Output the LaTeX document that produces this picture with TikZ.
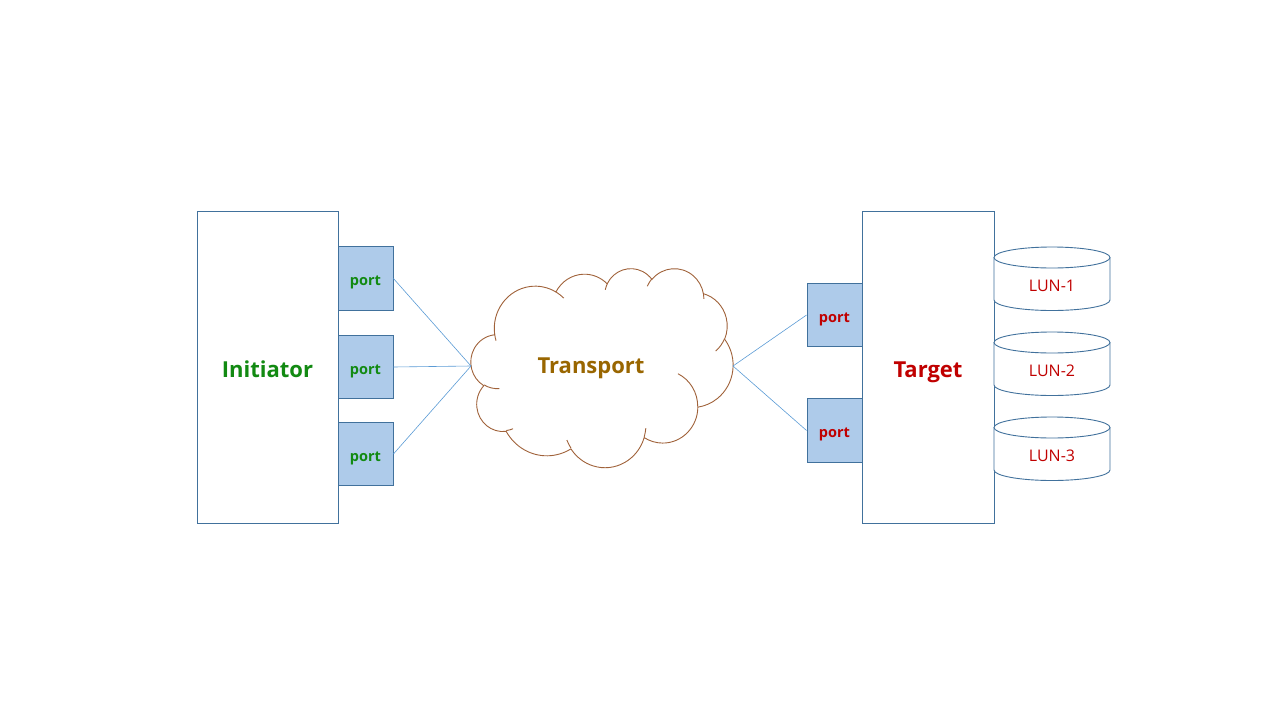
\documentclass[tikz,border=0pt]{standalone}
\usepackage{fontspec}
\setmainfont{Open Sans}
\definecolor{boxc}{HTML}{41719C}
\definecolor{portc}{HTML}{AECBEA}
\definecolor{linkc}{HTML}{5B9BD5}
\definecolor{initc}{HTML}{128A12}
\definecolor{tgtc}{HTML}{C00000}
\definecolor{transc}{HTML}{996600}
\definecolor{cloudc}{HTML}{A0623A}
\newcommand\cldsx{0.60648}
\newcommand\cldsy{0.46065}
\newcommand\cldarc[4]{%
 \pgfmathsetmacro\clA{atan2((#1)*sin(#3),(#2)*cos(#3))}%
 \pgfmathsetmacro\clB{atan2((#1)*sin((#3)+(#4)),(#2)*cos((#3)+(#4)))}%
 \pgfmathsetmacro\clD{mod(\clB-\clA+720,360)}%
 \pgfmathsetmacro\clS{(-1)*(\clA)}%
 \pgfmathsetmacro\clE{(-1)*(\clA)-\clD}%
 \pgfmathsetmacro\clRx{(#1)*\cldsx}%
 \pgfmathsetmacro\clRy{(#2)*\cldsy}%
 \pgfpatharc{\clS}{\clE}{\clRx pt and \clRy pt}}
\begin{document}
\begin{tikzpicture}[x=1pt,y=-1pt,
  bigtext/.style={font=\bfseries\fontsize{22}{26}\selectfont, text height=20pt, text depth=0pt},
  hostbox/.style={draw=boxc, line width=0.9pt, fill=white, inner sep=0pt, minimum height=312pt, bigtext},
  portbox/.style={draw=boxc, line width=0.9pt, fill=portc, inner sep=0pt, minimum width=55pt, minimum height=63.5pt, font=\bfseries\fontsize{14.5}{17}\selectfont, text height=14pt, text depth=0pt},
  link/.style={draw=linkc, line width=0.6pt},
  cyl/.style={draw=boxc, line width=0.9pt, fill=white},
  lunlabel/.style={text=tgtc, inner sep=0pt, font=\fontsize{16}{19}\selectfont, text height=12pt, text depth=0pt},
]
\useasboundingbox (0,0) rectangle (1280,720);
% initiator
\node[hostbox, minimum width=141pt, text=initc] (init) at (267.5,367) {Initiator};
\node[portbox, text=initc] (p1) at (365.5,278.5) {port};
\node[portbox, text=initc] (p2) at (365.5,367) {port};
\node[portbox, text=initc] (p3) at (365.5,454) {port};
% target
\node[hostbox, minimum width=132pt, text=tgtc] (tgt) at (928,367) {Target};
\node[portbox, text=tgtc] (q1) at (834.5,315) {port};
\node[portbox, text=tgtc] (q2) at (834.5,430.5) {port};
% cloud
\begin{scope}[shift={(471,268)}, x=0.60648pt, y=-0.46065pt]
 \pgfsetstrokecolor{cloudc}\pgfsetfillcolor{white}\pgfsetlinewidth{0.9pt}
 \pgfpathmoveto{\pgfpointxy{39.00}{143.70}}
 \cldarc{67.53}{91.90}{-190.4875}{123.7805}
 \cldarc{53.33}{72.67}{-144.1024}{89.9452}
 \cldarc{43.65}{59.45}{-145.8079}{99.7230}
 \cldarc{48.57}{65.95}{-130.9861}{117.2417}
 \cldarc{53.33}{72.73}{-78.7089}{109.0269}
 \cldarc{67.75}{92.20}{-46.2673}{130.2690}
 \cldarc{57.85}{78.67}{0.6250}{114.0333}
 \cldarc{67.52}{92.15}{22.4516}{115.1726}
 \cldarc{77.20}{105.43}{66.2426}{75.7110}
 \cldarc{43.60}{59.18}{-274.9421}{146.7356}
 \cldarc{43.45}{59.45}{-246.8285}{152.5189}
 \pgfpathclose
 \pgfusepath{fill,stroke}
 \pgfpathmoveto{\pgfpointxy{46.93}{261.77}}\cldarc{43.45}{59.45}{86.7420}{26.4295}
 \pgfpathmoveto{\pgfpointxy{69.28}{348.99}}\cldarc{43.60}{59.18}{73.6105}{11.4475}
 \pgfpathmoveto{\pgfpointxy{164.78}{390.90}}\cldarc{67.52}{92.15}{137.6242}{14.0811}
 \pgfpathmoveto{\pgfpointxy{288.27}{347.51}}\cldarc{67.52}{92.15}{6.4533}{15.9984}
 \pgfpathmoveto{\pgfpointxy{341.29}{229.54}}\cldarc{57.85}{78.67}{-70.2924}{70.9174}
 \pgfpathmoveto{\pgfpointxy{417.98}{153.54}}\cldarc{53.33}{72.73}{30.3180}{27.7515}
 \pgfpathmoveto{\pgfpointxy{383.24}{54.26}}\cldarc{48.57}{65.95}{-13.7443}{14.8589}
 \pgfpathmoveto{\pgfpointxy{290.78}{39.52}}\cldarc{48.57}{65.95}{-149.1815}{18.1954}
 \pgfpathmoveto{\pgfpointxy{221.41}{47.20}}\cldarc{43.65}{59.45}{-163.4943}{17.6864}
 \pgfpathmoveto{\pgfpointxy{140.00}{51.92}}\cldarc{67.53}{91.90}{-66.7070}{12.3194}
 \pgfpathmoveto{\pgfpointxy{41.27}{157.89}}\cldarc{67.53}{91.90}{157.6544}{11.8582}
 \pgfusepath{stroke}
\end{scope}
\coordinate (cloudL) at (471,366);
\coordinate (cloudR) at (733,366);
\node[text=transc, bigtext] (transport) at (591,363) {Transport};
% links
\draw[link] (p1.east) -- (cloudL);
\draw[link] (p2.east) -- (cloudL);
\draw[link] (p3.east) -- (cloudL);
\draw[link] (cloudR) -- (q1.west);
\draw[link] (cloudR) -- (q2.west);
% LUNs
\foreach \yt/\yb in {247/310.5, 332/395.5, 417/480.5}{
  \draw[cyl] (994,\yt+10.5) -- (994,\yb-10.5) arc[start angle=180, end angle=360, x radius=58pt, y radius=10.5pt] -- (1110,\yt+10.5);
  \draw[cyl] (1052,\yt+10.5) ellipse[x radius=58pt, y radius=10.5pt];
}
\node[lunlabel] (lun1) at (1052,285) {LUN-1};
\node[lunlabel] (lun2) at (1052,370) {LUN-2};
\node[lunlabel] (lun3) at (1052,455) {LUN-3};
\end{tikzpicture}
\end{document}
